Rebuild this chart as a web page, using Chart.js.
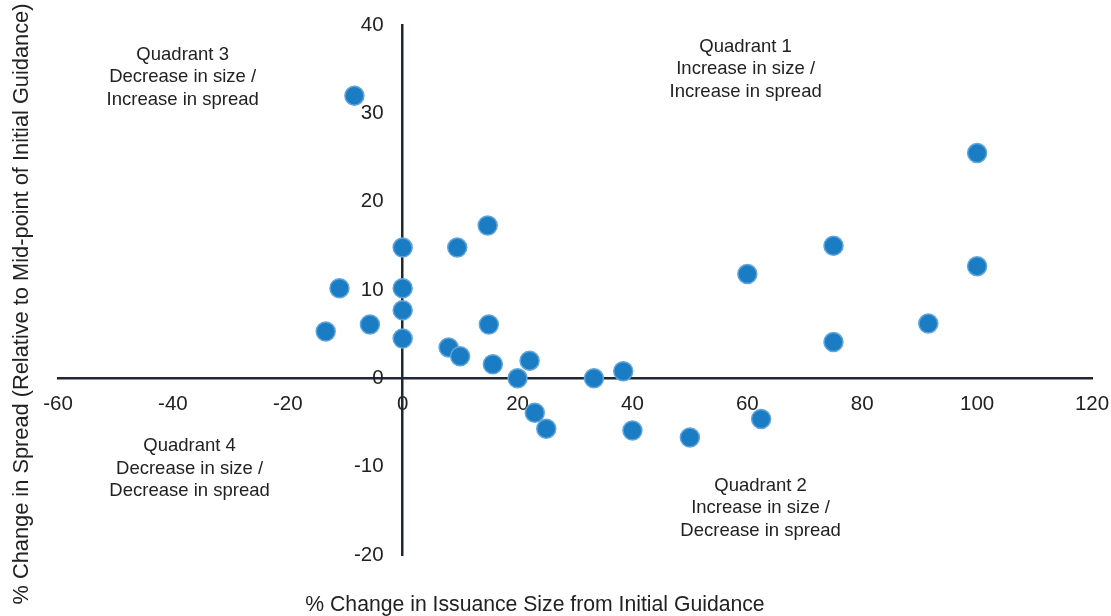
<!DOCTYPE html>
<html>
<head>
<meta charset="utf-8">
<script src="https://cdn.jsdelivr.net/npm/chart.js@4/dist/chart.umd.min.js"></script>
<style>
  html, body { margin: 0; padding: 0; background: #fff; }
  #wrap { width: 1111px; height: 616px; position: relative; }
</style>
</head>
<body>
<div id="wrap"><canvas id="chart"></canvas></div>
<script>
// % change in issuance size vs % change in spread
const sizeChange = [-8.4, 100, 14.8, 0, 9.5, 75, 60, 100, -11, 0, 0, -13.4, -5.7, 15, 91.5,
    0, 75, 8, 10, 15.7, 22.1, 20, 33.3, 38.4, 23, 25, 40, 50, 62.4];
const spreadChange = [32.0, 25.5, 17.3, 14.8, 14.8, 15.0, 11.8, 12.7, 10.2, 10.2, 7.7, 5.3, 6.1, 6.1, 6.2,
    4.5, 4.1, 3.5, 2.5, 1.6, 2.0, 0, 0, 0.8, -3.9, -5.7, -5.9, -6.7, -4.6];

const xTicks = [-60, -40, -20, 0, 20, 40, 60, 80, 100, 120];
const yTicks = [-20, -10, 0, 10, 20, 30, 40];

const quadrantLabels = [
    ['Quadrant 1', 'Increase in size /', 'Increase in spread'],
    ['Quadrant 2', 'Increase in size /', 'Decrease in spread'],
    ['Quadrant 3', 'Decrease in size /', 'Increase in spread'],
    ['Quadrant 4', 'Decrease in size /', 'Decrease in spread']
];
// anchor of each label block (data units, middle line)
const quadrantAnchors = [[59.7, 35.0], [62.3, -14.7], [-38.3, 34.1], [-37.1, -10.2]];

const xTitle = '% Change in Issuance Size from Initial Guidance';
const yTitle = '% Change in Spread (Relative to Mid-point of Initial Guidance)';

const FONT = '"Liberation Sans", Arial, sans-serif';
const TEXT = '#222222';
const AXIS = '#1e2733';

const points = sizeChange.map((x, i) => ({ x, y: spreadChange[i] }));

const annotations = {
    id: 'annotations',
    afterDraw(chart) {
        const { ctx, scales } = chart;
        ctx.save();
        ctx.fillStyle = TEXT;

        // y tick labels, to the left of the crossing axis
        ctx.font = '20.5px ' + FONT;
        ctx.textAlign = 'right';
        ctx.textBaseline = 'middle';
        const axisX = scales.x.getPixelForValue(0);
        yTicks.forEach(v => ctx.fillText(String(v), axisX - 19, scales.y.getPixelForValue(v)));

        ctx.textAlign = 'center';
        ctx.font = '18.5px ' + FONT;
        quadrantLabels.forEach((lines, i) => {
            const px = scales.x.getPixelForValue(quadrantAnchors[i][0]);
            const py = scales.y.getPixelForValue(quadrantAnchors[i][1]);
            lines.forEach((line, j) => ctx.fillText(line, px, py + (j - 1) * 22.5));
        });

        ctx.font = '21.2px ' + FONT;
        ctx.fillText(xTitle, 535, 605);
        ctx.font = '21.8px ' + FONT;
        ctx.translate(22, 304);
        ctx.rotate(-Math.PI / 2);
        ctx.fillText(yTitle, 0, 0);
        ctx.restore();
    }
};

const zeroSize = (scale) => {
    if (scale.isHorizontal()) scale.height = 0; else scale.width = 0;
    scale.paddingLeft = scale.paddingRight = scale.paddingTop = scale.paddingBottom = 0;
};

new Chart(document.getElementById('chart'), {
    type: 'scatter',
    data: {
        datasets: [{
            data: points,
            backgroundColor: '#1a7dc4',
            borderColor: '#62a5da',
            borderWidth: 1.5,
            pointRadius: 9.5,
            pointHoverRadius: 9.5
        }]
    },
    options: {
        responsive: true,
        maintainAspectRatio: false,
        animation: false,
        layout: { padding: { left: 58, right: 19, top: 25, bottom: 61 } },
        plugins: {
            legend: { display: false },
            tooltip: { enabled: false }
        },
        scales: {
            x: {
                type: 'linear',
                position: { y: 0 },
                min: -60,
                max: 120,
                afterFit: zeroSize,
                afterBuildTicks: (s) => { s.ticks = xTicks.map(v => ({ value: v })); },
                grid: { display: false, drawTicks: false },
                border: { display: true, color: AXIS, width: 2.5 },
                ticks: { color: TEXT, font: { family: FONT, size: 20.5 }, padding: 14, maxRotation: 0 }
            },
            y: {
                type: 'linear',
                position: { x: 0 },
                min: -20,
                max: 40,
                afterFit: zeroSize,
                afterBuildTicks: (s) => { s.ticks = yTicks.map(v => ({ value: v })); },
                grid: { display: false, drawTicks: false },
                border: { display: true, color: AXIS, width: 2.5 },
                ticks: { display: false }
            }
        }
    },
    plugins: [annotations]
});
</script>
</body>
</html>
